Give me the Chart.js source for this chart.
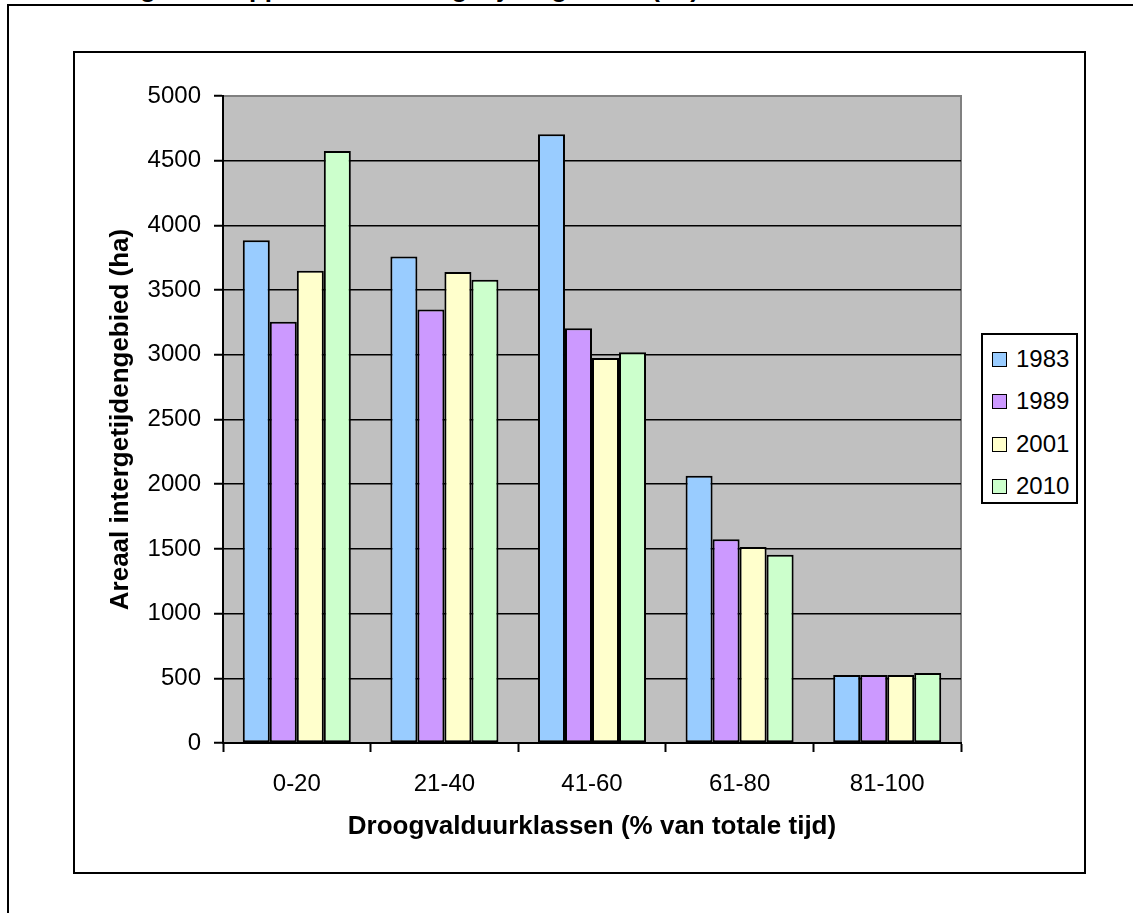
<!DOCTYPE html>
<html lang="nl">
<head>
    <meta charset="UTF-8">
    <title>Areaal intergetijdengebied</title>
    <script src="https://cdn.jsdelivr.net/npm/chart.js"></script>
    <style>
        html, body { margin: 0; padding: 0; background: #fff; overflow: hidden; }
        body { width: 1133px; height: 913px; position: relative; font-family: "Liberation Sans", Arial, sans-serif; }
        #outerFrame { position: absolute; left: 7px; top: 4px; right: -20px; bottom: -20px; border-top: 2px solid #000; border-left: 2px solid #000; }
        #pageTitle { position: absolute; left: -6px; top: -25px; font-size: 26px; line-height: 26px; font-weight: bold; white-space: nowrap; word-spacing: 9px; }
        #chartFrame { position: absolute; left: 73px; top: 51px; width: 1013px; height: 823px; border: 2px solid #000; box-sizing: border-box; }
        #chart { position: absolute; left: 0; top: 0; }
        #legend { position: absolute; left: 981px; top: 333px; width: 97px; height: 171px; border: 2px solid #000; box-sizing: border-box; background: #fff; }
        .item { position: absolute; left: 9px; height: 28px; font-size: 24px; line-height: 28px; }
        .item span.box { position: absolute; left: 0; top: 7px; width: 15px; height: 15px; border: 1.5px solid #000; box-sizing: border-box; }
        .item span.txt { position: absolute; left: 24px; top: 0; }
    </style>
</head>
<body>
<div id="outerFrame"></div>
<div id="pageTitle">Ontwikkeling van oppervlakte intergetijdengebied (ha)</div>
<div id="chartFrame"></div>
<canvas id="chart" width="1133" height="913"></canvas>
<div id="legend"></div>

<script>
    // values (ha)
    const categories = ['0-20', '21-40', '41-60', '61-80', '81-100'];
    const years = ['1983', '1989', '2001', '2010'];
    const v1983 = [3885, 3760, 4705, 2065, 525];
    const v1989 = [3255, 3350, 3205, 1575, 525];
    const v2001 = [3650, 3640, 2975, 1515, 525];
    const v2010 = [4575, 3580, 3020, 1455, 540];
    const yTicks = [0, 500, 1000, 1500, 2000, 2500, 3000, 3500, 4000, 4500, 5000];

    const seriesValues = [v1983, v1989, v2001, v2010];
    const colors = ['#99CCFF', '#CC99FF', '#FFFFCC', '#CCFFCC'];
    const font = 'Liberation Sans';

    // grey plot area with a grey frame, like Excel
    const plotBackground = {
        id: 'plotBackground',
        beforeDraw(chart) {
            const { ctx, chartArea: a } = chart;
            ctx.save();
            ctx.fillStyle = '#C0C0C0';
            ctx.fillRect(a.left, a.top, a.right - a.left, a.bottom - a.top);
            ctx.strokeStyle = '#808080';
            ctx.lineWidth = 2;
            ctx.strokeRect(a.left, a.top, a.right - a.left, a.bottom - a.top);
            ctx.restore();
        }
    };

    const ctx = document.getElementById('chart').getContext('2d');
    const chart = new Chart(ctx, {
        type: 'bar',
        data: {
            labels: categories,
            datasets: years.map((y, i) => ({
                label: y,
                data: seriesValues[i],
                backgroundColor: colors[i],
                borderColor: '#000',
                borderWidth: 2,
                borderSkipped: false,
                categoryPercentage: 0.732,
                barPercentage: 1.0
            }))
        },
        options: {
            responsive: false,
            animation: false,
            layout: { padding: { left: 105, top: 96, right: 172, bottom: 71 } },
            plugins: {
                legend: { display: false },
                tooltip: { enabled: false }
            },
            scales: {
                x: {
                    afterFit: s => { s.height = 99; },
                    grid: {
                        offset: true,
                        drawOnChartArea: false,
                        tickLength: 9,
                        tickColor: '#000',
                        tickWidth: 2
                    },
                    border: { color: '#000', width: 2 },
                    ticks: { color: '#000', padding: 18, font: { family: font, size: 24 } },
                    title: {
                        display: true,
                        text: 'Droogvalduurklassen (% van totale tijd)',
                        color: '#000',
                        font: { family: font, size: 26, weight: 'bold' },
                        padding: 0
                    }
                },
                y: {
                    min: 0,
                    max: 5000,
                    afterFit: s => { s.width = 118; },
                    afterBuildTicks: s => { s.ticks = yTicks.map(v => ({ value: v })); },
                    grid: {
                        color: c => (c.tick && c.tick.value === 5000) ? 'rgba(0,0,0,0)' : '#000',
                        lineWidth: 1.5,
                        tickLength: 9,
                        tickColor: '#000',
                        tickWidth: 2
                    },
                    border: { color: '#000', width: 2 },
                    ticks: {
                        color: '#000',
                        padding: 13,
                        font: { family: font, size: 24 },
                        callback: v => String(v)
                    },
                    title: {
                        display: true,
                        text: 'Areaal intergetijdengebied (ha)',
                        color: '#000',
                        font: { family: font, size: 26, weight: 'bold' },
                        padding: 0
                    }
                }
            }
        },
        plugins: [plotBackground]
    });

    // legend box built from the same series
    const legend = document.getElementById('legend');
    years.forEach((y, i) => {
        const item = document.createElement('div');
        item.className = 'item';
        item.style.top = (10 + i * 42.3) + 'px';
        item.innerHTML = '<span class="box" style="background:' + colors[i] + '"></span><span class="txt">' + y + '</span>';
        legend.appendChild(item);
    });
</script>
</body>
</html>
